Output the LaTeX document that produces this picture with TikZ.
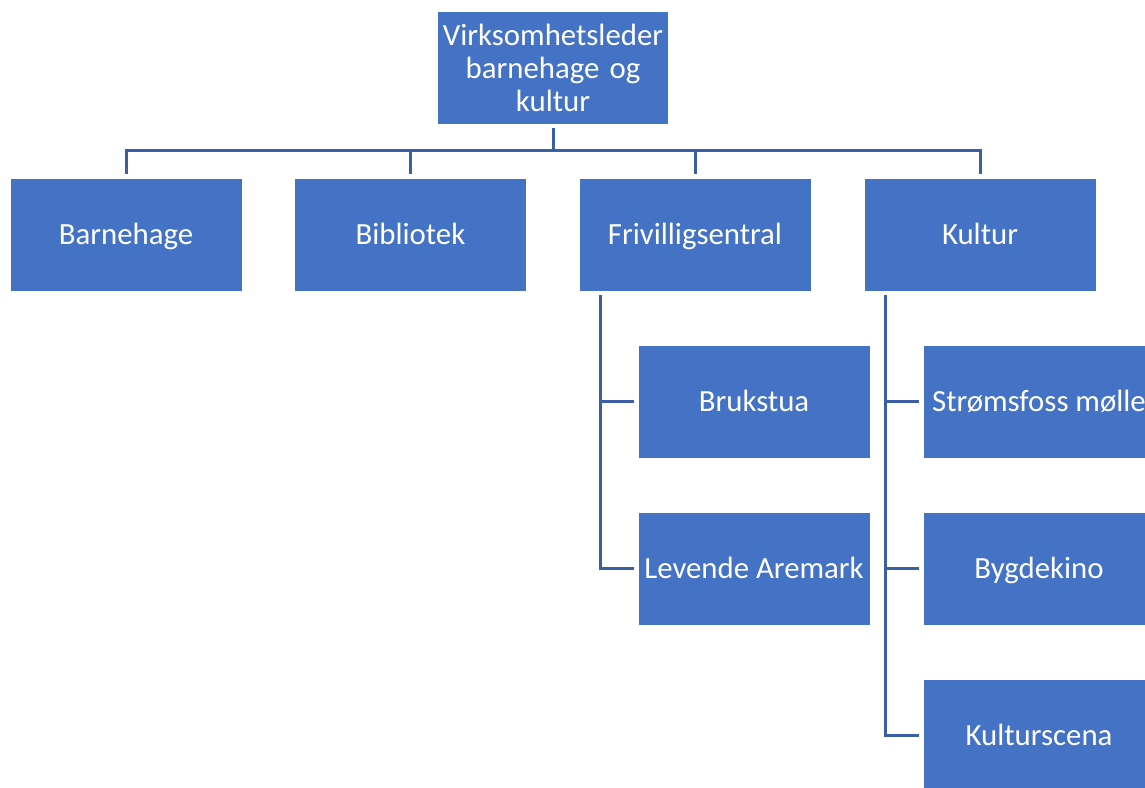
\documentclass[tikz,border=0pt]{standalone}
\usepackage{fontspec}
\setmainfont{Carlito}
\definecolor{boxblue}{HTML}{4472C4}
\definecolor{lineblue}{HTML}{3A5FA6}
\begin{document}
\begin{tikzpicture}[x=1pt,y=-1pt,
  orgbox/.style={fill=boxblue, draw=white, line width=0.8pt, minimum width=232pt, minimum height=113pt,
    inner sep=0pt, text=white, font=\fontsize{30.8}{33}\selectfont, align=center},
  onebox/.style={orgbox, text height=24pt, text depth=4pt},
  conn/.style={draw=lineblue, line width=3pt, shorten <=3.5pt, shorten >=3.5pt}]
\useasboundingbox (0,0) rectangle (1145,787);
\clip (0,0) rectangle (1145,787);
\node[orgbox, minimum width=231pt, text width=231pt] (top) at (553,67.5) {Virksomhetsleder\\barnehage og\\kultur};
\node[onebox] (barn) at (126,234.5) {Barnehage};
\node[onebox] (bibl) at (410.5,234.5) {Bibliotek};
\node[onebox] (friv) at (695,234.5) {Frivilligsentral};
\node[onebox] (kult) at (980,234.5) {Kultur};
\node[onebox] (bruk) at (754,401.5) {Brukstua};
\node[onebox] (leve) at (754,568.5) {Levende Aremark};
\node[onebox] (stro) at (1039,401.5) {Strømsfoss mølle};
\node[onebox] (bygd) at (1039,568.5) {Bygdekino};
\node[onebox] (ksce) at (1039,735.5) {Kulturscena};
\coordinate (bus) at (553,150.5);
\draw[conn, shorten >=0pt] (top.south) -- (bus);
\draw[conn] (barn.north) -- (barn.north |- bus) -- (kult.north |- bus) -- (kult.north);
\draw[conn, shorten <=0pt] (bibl.north |- bus) -- (bibl.north);
\draw[conn, shorten <=0pt] (friv.north |- bus) -- (friv.north);
\coordinate (fstem) at ([xshift=22pt]friv.south west);
\coordinate (kstem) at ([xshift=22pt]kult.south west);
\draw[conn] (fstem) |- (leve.west);
\draw[conn, shorten <=0pt] (fstem |- bruk.west) -- (bruk.west);
\draw[conn] (kstem) |- (ksce.west);
\draw[conn, shorten <=0pt] (kstem |- stro.west) -- (stro.west);
\draw[conn, shorten <=0pt] (kstem |- bygd.west) -- (bygd.west);
\end{tikzpicture}
\end{document}
